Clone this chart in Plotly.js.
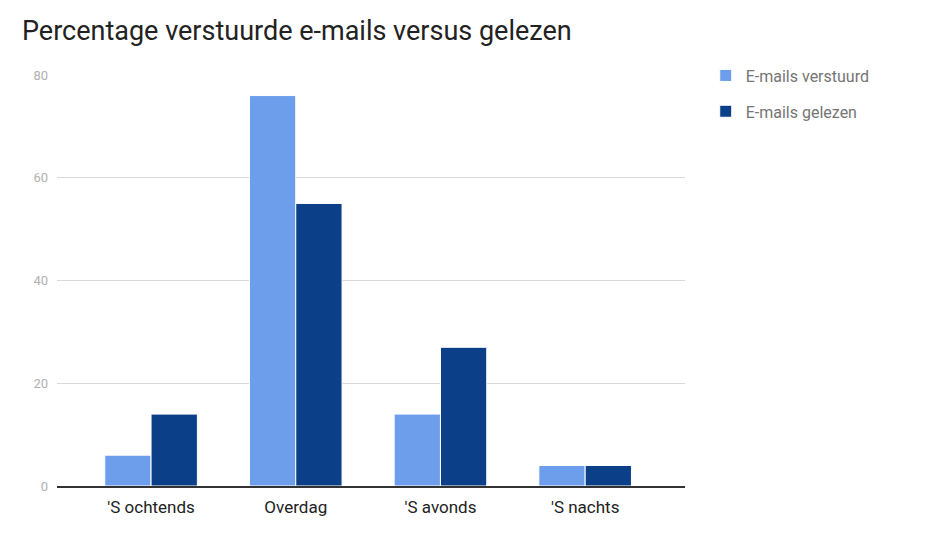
<!DOCTYPE html>
<html>
<head>
<meta charset="utf-8">
<script src="https://cdn.plot.ly/plotly-3.0.1.min.js"></script>
<style>html,body{margin:0;padding:0;background:#fff;}#chart{width:939px;height:537px;}</style>
</head>
<body>
<div id="chart"></div>
<script>
const categories = ["'S ochtends", "Overdag", "'S avonds", "'S nachts"];
const verstuurd = [6, 76, 14, 4];
const gelezen = [14, 55, 27, 4];
const seriesNames = ["E-mails verstuurd", "E-mails gelezen"];
const yTicks = [0, 20, 40, 60, 80];

const traces = [
  {type: 'bar', x: categories, y: verstuurd, name: seriesNames[0], legendgroup: 'a',
   marker: {color: '#6d9eeb', line: {color: '#ffffff', width: 1}}},
  {type: 'bar', x: categories, y: gelezen, name: seriesNames[1], legendgroup: 'b',
   marker: {color: '#0b3f87', line: {color: '#ffffff', width: 1}}}
];

const layout = {
  width: 939, height: 537,
  font: {family: 'Roboto, Arial, sans-serif'},
  paper_bgcolor: '#fff', plot_bgcolor: '#fff',
  margin: {l: 57, r: 254, t: 75, b: 51},
  title: {text: 'Percentage verstuurde e-mails versus gelezen', x: 22/939, xanchor: 'left', y: 1 - 31/537, yanchor: 'middle',
          font: {size: 27, color: '#222'}},
  barmode: 'group', bargap: 0.36, bargroupgap: 0.0,
  xaxis: {type: 'category', range: [-0.65, 3.69], showgrid: false, ticks: '', showline: true, linecolor: '#333', linewidth: 1.5,
          tickfont: {size: 17, color: '#222'}, ticklabelstandoff: 5, fixedrange: true},
  yaxis: {range: [0, 80], tickvals: yTicks, showgrid: true, gridcolor: '#d9d9d9', gridwidth: 1, zeroline: false,
          tickfont: {size: 13, color: '#b0b0b0'}, ticks: '', ticklabelstandoff: 8},
  legend: {x: 1.033, y: 1.04, xanchor: 'left', yanchor: 'top', font: {size: 16, color: '#757575'}, tracegroupgap: 12},
  showlegend: true
};

Plotly.newPlot('chart', traces, layout, {displayModeBar: false, staticPlot: true});
</script>
</body>
</html>
